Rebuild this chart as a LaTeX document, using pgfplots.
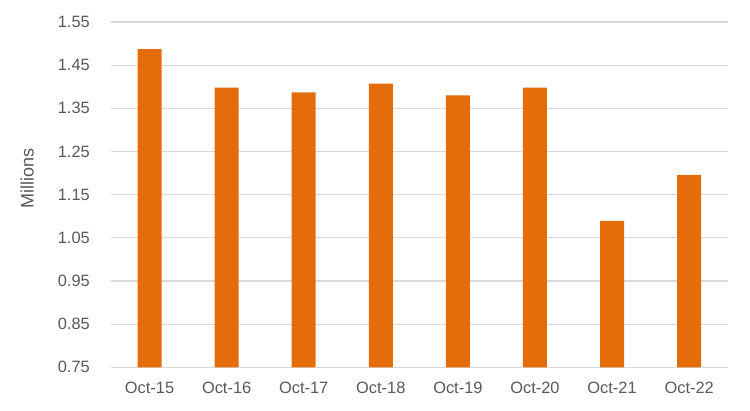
\documentclass[border=0pt]{standalone}
\usepackage{fontspec}
\setmainfont{Liberation Sans}
\usepackage{pgfplots}
\pgfplotsset{compat=1.18}
\definecolor{barorange}{HTML}{E46C0A}
\definecolor{txtgray}{HTML}{595959}
\definecolor{gridgray}{HTML}{D9D9D9}
\begin{document}
\begin{tikzpicture}
\begin{axis}[
  at={(0,0)}, anchor=south west,
  scale only axis,
  width=616.7pt, height=345.3pt,
  xmin=-0.5, xmax=7.5,
  ymin=0.75, ymax=1.55,
  xtick={0,1,2,3,4,5,6,7},
  xticklabels={Oct-15,Oct-16,Oct-17,Oct-18,Oct-19,Oct-20,Oct-21,Oct-22},
  ytick={0.75,0.85,0.95,1.05,1.15,1.25,1.35,1.45,1.55},
  yticklabels={0.75,0.85,0.95,1.05,1.15,1.25,1.35,1.45,1.55},
  ymajorgrids,
  grid style={gridgray, line width=1.2pt},
  axis line style={draw=none},
  major tick length=0pt,
  tick label style={font=\fontsize{16.4}{19}\selectfont, text=txtgray, inner sep=0pt},
  yticklabel style={anchor=east, xshift=-21pt},
  xticklabel style={anchor=center, yshift=-20.4pt},
  ylabel={Millions},
  ylabel style={font=\fontsize{18}{21}\selectfont, text=txtgray, at={(axis description cs:-0.136,0.546)}, anchor=center},
  ybar, bar width=24pt,
  clip=true,
]
\addplot[fill=barorange, draw=none] coordinates {
  (0,1.487) (1,1.398) (2,1.387) (3,1.407) (4,1.380) (5,1.398) (6,1.089) (7,1.196)
};
\end{axis}
\path[use as bounding box] (-111pt,-42.7pt) rectangle (639pt,367.3pt);
\end{tikzpicture}
\end{document}
